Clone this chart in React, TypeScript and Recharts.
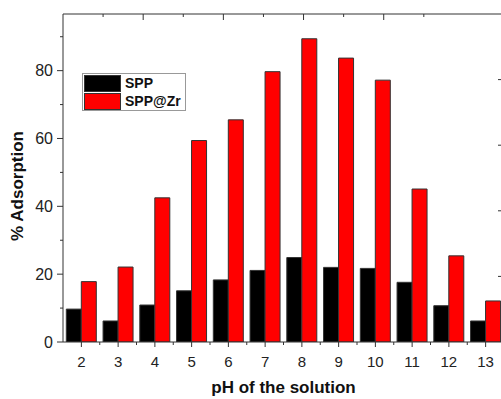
import React from 'react';
import { BarChart, Bar, XAxis, YAxis, Legend } from 'recharts';

const phValues = ['2', '3', '4', '5', '6', '7', '8', '9', '10', '11', '12', '13'];
const sppValues = [9.7, 6.2, 10.9, 15.1, 18.3, 21.1, 24.9, 22.0, 21.7, 17.6, 10.7, 6.2];
const sppZrValues = [17.8, 22.1, 42.5, 59.4, 65.5, 79.7, 89.4, 83.7, 77.2, 45.1, 25.4, 12.1];
const yTicks = [0, 10, 20, 30, 40, 50, 60, 70, 80, 90];
const frameTicks = [1, 2, 3, 4, 5, 6, 7, 8, 9];

const data = phValues.map((ph, i) => ({ ph, spp: sppValues[i], sppZr: sppZrValues[i] }));

const FONT = '"Liberation Sans", Arial, sans-serif';
const AXIS = '#333';
const CHART_W = 505;
const PLOT_LEFT = 63;
const PLOT_RIGHT = 504;
const HALF_BAND = (PLOT_RIGHT - PLOT_LEFT) / phValues.length / 2;

const LeftTick = (props: any) => {
  const { x, y, payload } = props;
  const major = payload.value % 20 === 0;
  return (
    <g>
      <line x1={x - (major ? 6 : 3)} x2={x} y1={y} y2={y} stroke={AXIS} />
      {major && (
        <text x={x - 10} y={y} dy="0.36em" textAnchor="end" fontSize={16} fontFamily={FONT} fill="#222">
          {payload.value}
        </text>
      )}
    </g>
  );
};

const BottomTick = (props: any) => {
  const { x, y, payload, index } = props;
  return (
    <g>
      <line x1={x} x2={x} y1={y} y2={y + 5} stroke={AXIS} />
      {index < phValues.length - 1 && (
        <line x1={x + HALF_BAND} x2={x + HALF_BAND} y1={y} y2={y + 3} stroke={AXIS} />
      )}
      <text x={x} y={y + 25} textAnchor="middle" fontSize={15} fontFamily={FONT} fill="#222">
        {payload.value}
      </text>
    </g>
  );
};

const TopTick = (props: any) => {
  const { x, y, payload } = props;
  const major = payload.value % 2 === 0;
  return <line x1={x} x2={x} y1={y} y2={y + (major ? 6 : 3)} stroke={AXIS} />;
};

const RightTick = (props: any) => {
  const { x, y, payload } = props;
  const major = payload.value % 2 === 0;
  return <line x1={x - (major ? 6 : 3)} x2={x} y1={y} y2={y} stroke={AXIS} />;
};

const YTitle = () => (
  <text
    x={23}
    y={186}
    transform="rotate(-90 23 186)"
    textAnchor="middle"
    fontSize={17}
    fontWeight="bold"
    fontFamily={FONT}
    fill="#111"
  >
    % Adsorption
  </text>
);

const legendItems = [
  { label: 'SPP', color: '#000000' },
  { label: 'SPP@Zr', color: '#ff0000' },
];

const LegendBox = () => (
  <div
    style={{
      border: '1px solid #999',
      background: '#fff',
      width: 104,
      height: 38,
      boxSizing: 'border-box',
      padding: '0 0 0 1px',
      fontFamily: FONT,
    }}
  >
    {legendItems.map((item) => (
      <div key={item.label} style={{ display: 'flex', alignItems: 'center', height: 18, marginTop: 0 }}>
        <div
          style={{
            width: 37,
            height: 17,
            background: item.color,
            border: '1px solid #333',
            boxSizing: 'border-box',
          }}
        />
        <span style={{ marginLeft: 4, fontSize: 14, fontWeight: 'bold', color: '#111' }}>{item.label}</span>
      </div>
    ))}
  </div>
);

export default function App() {
  return (
    <div style={{ position: 'absolute', left: 0, top: 0, width: 501, height: 399, overflow: 'hidden', background: '#fff' }}>
      <BarChart
        width={CHART_W}
        height={399}
        data={data}
        margin={{ top: 0, right: 0, bottom: 0, left: 0 }}
        barCategoryGap="9%"
        barGap={0}
      >
        <XAxis
          xAxisId="cat"
          dataKey="ph"
          height={57}
          axisLine={{ stroke: AXIS }}
          tickLine={false}
          tickSize={0}
          tickMargin={0}
          tick={<BottomTick />}
          interval={0}
          label={{ value: 'pH of the solution', position: 'insideBottom', offset: 6, fontSize: 17, fontWeight: 'bold', fontFamily: FONT, fill: '#111' }}
        />
        <XAxis
          xAxisId="top"
          orientation="top"
          type="number"
          domain={[0, 10]}
          allowDataOverflow
          ticks={frameTicks}
          height={14}
          axisLine={{ stroke: AXIS }}
          tickLine={false}
          tickSize={0}
          tickMargin={0}
          tick={<TopTick />}
        />
        <YAxis
          yAxisId="left"
          width={PLOT_LEFT}
          domain={[0, 96.7]}
          ticks={yTicks}
          allowDataOverflow
          axisLine={{ stroke: AXIS }}
          tickLine={false}
          tickSize={0}
          tickMargin={0}
          tick={<LeftTick />}
          interval={0}
          label={<YTitle />}
        />
        <YAxis
          yAxisId="right"
          orientation="right"
          width={CHART_W - PLOT_RIGHT}
          domain={[0, 10]}
          ticks={frameTicks}
          allowDataOverflow
          axisLine={{ stroke: AXIS }}
          tickLine={false}
          tickSize={0}
          tickMargin={0}
          tick={<RightTick />}
          interval={0}
        />
        <Legend
          layout="horizontal"
          verticalAlign="middle"
          align="center"
          content={<LegendBox />}
          wrapperStyle={{ left: 82, top: 73, width: 104, height: 38 }}
        />
        <Bar xAxisId="cat" yAxisId="left" dataKey="spp" name="SPP" fill="#000000" stroke="#333" strokeWidth={1} isAnimationActive={false} />
        <Bar xAxisId="cat" yAxisId="left" dataKey="sppZr" name="SPP@Zr" fill="#ff0000" stroke="#333" strokeWidth={1} isAnimationActive={false} />
      </BarChart>
    </div>
  );
}
